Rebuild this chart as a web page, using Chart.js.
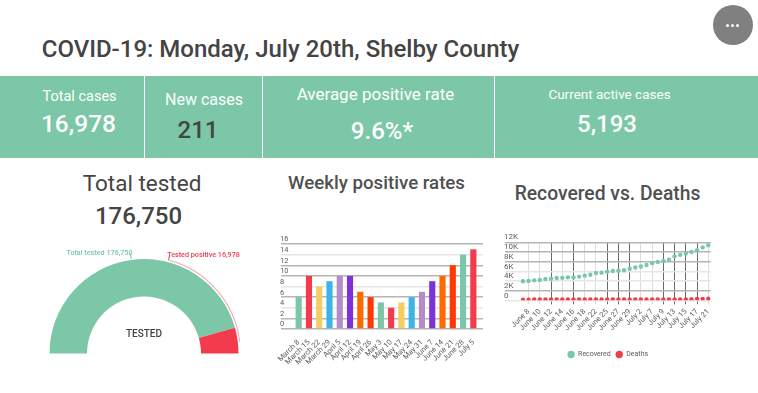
<!DOCTYPE html>
<html><head><meta charset="utf-8">
<script src="https://cdn.jsdelivr.net/npm/chart.js@4/dist/chart.umd.min.js"></script>
<style>
html,body{margin:0;padding:0;background:#fff;width:758px;height:393px;overflow:hidden;font-family:Roboto,sans-serif;color:#444}
.t{position:absolute;white-space:nowrap;transform:translate(-50%,-50%);line-height:1}
.c{position:absolute}
#band{position:absolute;left:0;top:76px;width:758px;height:82px;background:#7bc7a7}
.div{position:absolute;top:76px;width:1px;height:82px;background:#fff}
#btn{position:absolute;left:713px;top:5px;width:40px;height:40px;border-radius:50%;background:#808080}
.dot{position:absolute;top:19px;width:3px;height:3px;border-radius:50%;background:#fff}
.w{color:#fff}
.l{position:absolute;height:1px;transform-origin:0 0}
</style></head><body>
<div id="btn"><div class="dot" style="left:13px"></div><div class="dot" style="left:18px"></div><div class="dot" style="left:23px"></div></div>
<div class="t" style="left:280.5px;top:49px;font-size:24px;font-weight:500">COVID-19: Monday, July 20th, Shelby County</div>
<div id="band"></div>
<div class="div" style="left:144px"></div><div class="div" style="left:262px"></div><div class="div" style="left:494px"></div>
<div class="t w" style="left:79.5px;top:97px;font-size:14.5px">Total cases</div>
<div class="t w" style="left:78.5px;top:124px;font-size:24.5px;font-weight:500">16,978</div>
<div class="t w" style="left:204px;top:100px;font-size:16px">New cases</div>
<div class="t" style="left:198px;top:130px;font-size:24px;font-weight:500">211</div>
<div class="t w" style="left:375.5px;top:94px;font-size:17px">Average positive rate</div>
<div class="t w" style="left:382px;top:131px;font-size:24px;font-weight:500">9.6%*</div>
<div class="t w" style="left:609.5px;top:95px;font-size:13.5px">Current active cases</div>
<div class="t w" style="left:607px;top:124px;font-size:24px;font-weight:500">5,193</div>
<div class="t" style="left:142px;top:183px;font-size:22.5px">Total tested</div>
<div class="t" style="left:138.5px;top:216px;font-size:24px;font-weight:500">176,750</div>
<div class="t" style="left:376.5px;top:183px;font-size:18.7px;font-weight:500;color:#505050">Weekly positive rates</div>
<div class="t" style="left:607.5px;top:194px;font-size:19.3px;font-weight:500;color:#505050">Recovered vs. Deaths</div>
<canvas id="gauge" class="c" width="200" height="100" style="left:44.2px;top:254.8px"></canvas>
<canvas id="bars" class="c" width="220" height="150" style="left:270px;top:225px"></canvas>
<canvas id="line" class="c" width="240" height="150" style="left:490px;top:225px"></canvas>
<div class="t" style="left:99.5px;top:253px;font-size:7.2px;color:#7bc7a7;font-weight:500">Total tested 176,750</div>
<div class="t" style="left:203.5px;top:255px;font-size:7.2px;color:#f23b4c;font-weight:500">Tested positive 16,978</div>
<div class="t" style="left:144px;top:334px;font-size:10px;font-weight:500">TESTED</div>
<div class="l" style="left:130px;top:252px;width:7px;background:#7bc7a7;transform:rotate(75deg)"></div>
<div class="l" style="left:170px;top:256px;width:4px;background:#f23b4c;transform:rotate(105deg)"></div>
<script>
const gaugeLabels = ['Total tested', 'Tested positive'];
const gaugeValues = [176750, 16978];
const positiveArc = [104.5, 68.5, 7];

const weekLabels = ['March 8','March 15','March 22','March 29','April 5','April 12','April 19','April 26','May 3','May 10','May 17','May 24','May 31','June 7','June 14','June 21','June 28','July 5'];
const weekRates = [6,10,8,9,10,10,7,6,5,4,5,6,7,9,10,12,14,15];
const barColors = ['#7bc7a7','#f23b4c','#f5cd60','#3cb4e8','#b48cc8','#7d32d8','#ff6a00','#ff3a00'];
const darkBarGrid = [0,2,6,10,12,16];

const dayLabels = ['June 7','June 8','June 9','June 10','June 11','June 12','June 13','June 14','June 15','June 16','June 17','June 18','June 19','June 22','June 24','June 25','June 26','June 27','June 28','June 29','July 1','July 2','July 6','July 7','July 8','July 9','July 10','July 13','July 14','July 15','July 16','July 17','July 20','July 21'];
const recovered = [3950,4000,4130,4200,4400,4450,4600,4650,4750,4750,4900,5100,5300,5650,5720,5900,6050,6100,6230,6550,6800,7000,7300,7650,7950,8150,8400,9100,9400,9700,10000,10350,10950,11400];
const deaths = [130,130,170,170,180,180,180,190,190,190,190,190,190,190,190,190,190,190,190,190,190,190,190,190,190,190,190,190,190,200,210,300,300,320];
const darkDayTicks = [5,9,15,17,19,25,27,29,31];

const FONT = {family:'Roboto', size:7.5};
const GREY = '#5c5c5c';
function fixPad(s){ s.paddingLeft=0; s.paddingRight=0; s.paddingTop=0; s.paddingBottom=0; }

new Chart('gauge',{
  type:'doughnut',
  data:{labels:gaugeLabels,datasets:[
    {data:positiveArc,weight:1,backgroundColor:['transparent','#f7a3ab','transparent'],borderWidth:0},
    {data:[1],weight:1.5,backgroundColor:['transparent'],borderWidth:0},
    {data:gaugeValues,weight:37.5,backgroundColor:['#7bc7a7','#f23b4c'],borderWidth:0}
  ]},
  options:{responsive:false,animation:false,rotation:-90,circumference:180,radius:97,cutout:'58.76%',
    plugins:{legend:{display:false},tooltip:{enabled:false}}}
});

new Chart('bars',{
  type:'bar',
  data:{datasets:[{data:weekRates.map((v,i)=>({x:i,y:v})),backgroundColor:weekRates.map((v,i)=>barColors[i%barColors.length]),barPercentage:0.6,categoryPercentage:1}]},
  options:{responsive:false,animation:false,layout:{padding:{left:11,top:19,right:7,bottom:0}},
    plugins:{legend:{display:false},tooltip:{enabled:false}},
    scales:{
      x:{type:'linear',offset:false,min:-1.72,max:17.94,
        afterBuildTicks:s=>{s.ticks=weekLabels.map((_,i)=>({value:i}));},
        afterFit:s=>{s.height=46;fixPad(s);},
        grid:{display:false},border:{display:false},
        ticks:{autoSkip:false,minRotation:45,maxRotation:45,font:FONT,color:GREY,padding:1,callback:v=>weekLabels[v]}},
      y:{min:0,max:16,afterFit:s=>{s.width=0;fixPad(s);},
        border:{display:false},
        grid:{drawTicks:false,color:c=>darkBarGrid.includes(c.tick.value)?'#b5b5b5':'#e6e6e6',lineWidth:1.5},
        ticks:{autoSkip:false,stepSize:2,mirror:true,padding:-1,font:{family:'Roboto',size:7.5},color:GREY,callback:v=>[String(v),'']}}
    }}
});

new Chart('line',{
  type:'line',
  data:{datasets:[
    {label:'Recovered',data:recovered.map((v,i)=>({x:i,y:v})),showLine:false,pointRadius:2.2,pointBackgroundColor:'#7bc7a7',pointBorderWidth:0,backgroundColor:'#7bc7a7',borderColor:'#7bc7a7'},
    {label:'Deaths',data:deaths.map((v,i)=>({x:i,y:v})),showLine:false,pointRadius:2.2,pointBackgroundColor:'#f23b4c',pointBorderWidth:0,backgroundColor:'#f23b4c',borderColor:'#f23b4c'}
  ]},
  options:{responsive:false,animation:false,layout:{padding:{left:15,top:17.3,right:19.3,bottom:7}},
    plugins:{tooltip:{enabled:false},
      legend:{position:'bottom',labels:{usePointStyle:true,pointStyle:'circle',boxWidth:7,boxHeight:5.2,padding:5,font:{family:'Roboto',size:7},color:GREY}}},
    scales:{
      x:{type:'linear',min:-3.2,max:33.43,
        afterBuildTicks:s=>{s.ticks=dayLabels.map((_,i)=>({value:i})).filter(t=>t.value%2===1);},
        afterFit:s=>{s.height=45.7;fixPad(s);},
        border:{display:false},
        grid:{tickLength:4,color:c=>c.tick&&darkDayTicks.includes(c.tick.value)?'#6a6a6a':'#dcdcdc',lineWidth:1},
        ticks:{autoSkip:false,minRotation:45,maxRotation:45,font:FONT,color:GREY,padding:3,callback:v=>dayLabels[v]}},
      y:{min:0,max:12000,afterFit:s=>{s.width=0;fixPad(s);},
        border:{display:false},
        grid:{drawTicks:false,color:c=>[0,4000,6000].includes(c.tick.value)?'#e6e6e6':'#b5b5b5',lineWidth:1.5},
        ticks:{autoSkip:false,stepSize:2000,mirror:true,padding:-1,font:{family:'Roboto',size:8},color:GREY,callback:v=>[v===0?'0':(v/1000)+'K','']}}
    }}
});
</script>
</body></html>
